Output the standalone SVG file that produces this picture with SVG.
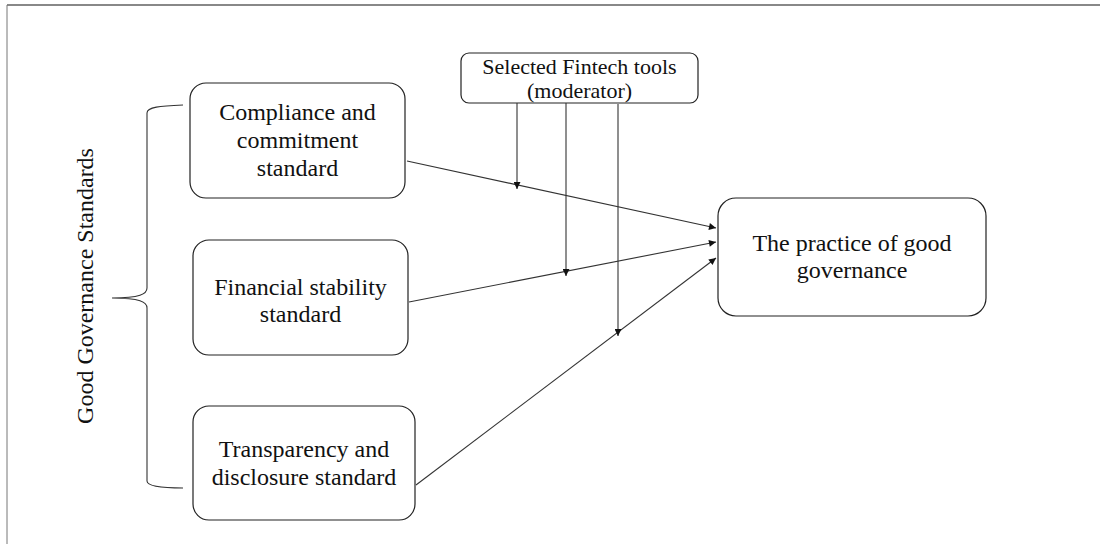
<svg xmlns="http://www.w3.org/2000/svg" width="1100" height="544" viewBox="0 0 1100 544">
  <style>
    .box { fill: #fff; stroke: #222; stroke-width: 1.2; }
    .lbl { font-family: "Liberation Serif", "Times New Roman", serif; font-size: 24px; fill: #111; text-anchor: middle; }
    .mod { font-size: 22px; }
    .wire { fill: none; stroke: #333; stroke-width: 1.1; }
  </style>
  <defs>
    <marker id="arrow" viewBox="0 0 10 10" refX="10" refY="5" markerWidth="8" markerHeight="7" markerUnits="userSpaceOnUse" orient="auto">
      <path d="M0,0 L10,5 L0,10 z" fill="#111"/>
    </marker>
  </defs>

  <rect width="1100" height="544" fill="#fff"/>
  <!-- page frame -->
  <line x1="7" y1="5" x2="1100" y2="5" stroke="#888" stroke-width="2"/>
  <line x1="7" y1="5" x2="7" y2="544" stroke="#777" stroke-width="1"/>

  <!-- brace grouping the three standards -->
  <g id="brace">
    <path class="wire" d="M183,105 C160,106 147,107 147,113 L147,288 C147,294 140,298 112,298 C140,298 147,302 147,308 L147,481 C147,486 160,488 183,488"/>
    <text class="lbl" transform="translate(93,286) rotate(-90)">Good Governance Standards</text>
  </g>

  <g id="compliance">
    <rect class="box" x="190" y="83" width="215" height="115" rx="16"/>
    <text class="lbl" x="297.5" y="120">Compliance and</text>
    <text class="lbl" x="297.5" y="148">commitment</text>
    <text class="lbl" x="297.5" y="176">standard</text>
  </g>

  <g id="financial">
    <rect class="box" x="193" y="240" width="215" height="115" rx="16"/>
    <text class="lbl" x="300.5" y="295">Financial stability</text>
    <text class="lbl" x="300.5" y="322">standard</text>
  </g>

  <g id="transparency">
    <rect class="box" x="193" y="406" width="222" height="114" rx="16"/>
    <text class="lbl" x="304" y="457">Transparency and</text>
    <text class="lbl" x="304" y="485">disclosure standard</text>
  </g>

  <g id="moderator">
    <rect class="box" x="461" y="53" width="237" height="50" rx="8"/>
    <text class="lbl mod" x="579.5" y="74">Selected Fintech tools</text>
    <text class="lbl mod" x="579.5" y="98">(moderator)</text>
  </g>

  <g id="outcome">
    <rect class="box" x="718" y="198" width="268" height="118" rx="18"/>
    <text class="lbl" x="852" y="251">The practice of good</text>
    <text class="lbl" x="852" y="278">governance</text>
  </g>

  <g id="connectors">
    <line class="wire" x1="407" y1="161" x2="716" y2="228" marker-end="url(#arrow)"/>
    <line class="wire" x1="409" y1="302" x2="716" y2="242" marker-end="url(#arrow)"/>
    <line class="wire" x1="416" y1="485" x2="716" y2="258" marker-end="url(#arrow)"/>
    <line class="wire" x1="517" y1="103" x2="517" y2="189" marker-end="url(#arrow)"/>
    <line class="wire" x1="566" y1="103" x2="566" y2="276" marker-end="url(#arrow)"/>
    <line class="wire" x1="618" y1="104" x2="618" y2="336" marker-end="url(#arrow)"/>
  </g>
</svg>
